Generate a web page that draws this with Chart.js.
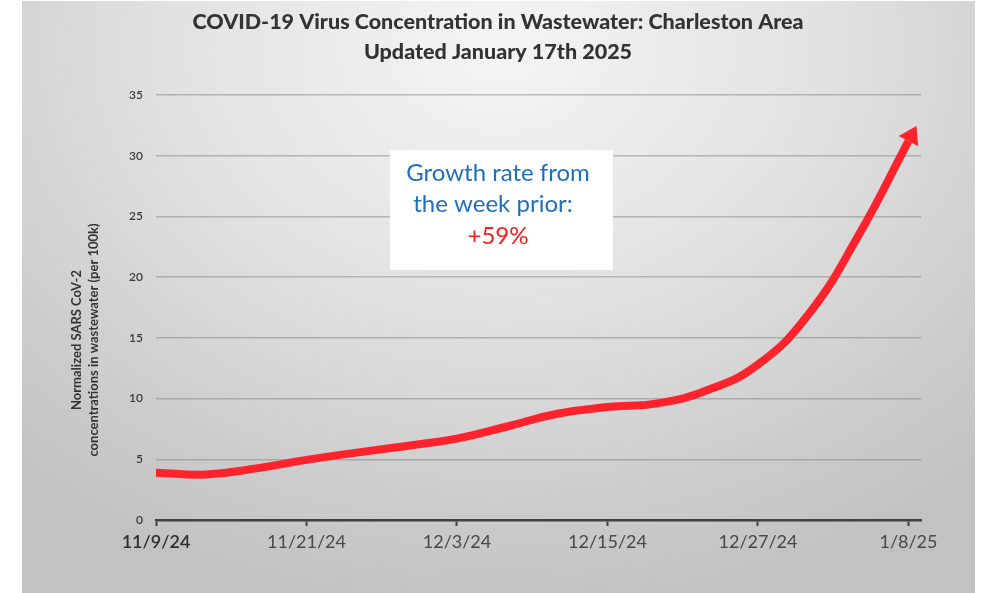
<!DOCTYPE html>
<html>
<head>
<meta charset="utf-8">
<script src="https://cdn.jsdelivr.net/npm/chart.js@4.4.1/dist/chart.umd.min.js"></script>
<style>
  html, body { margin: 0; padding: 0; background: #fff; }
  .wrap { position: relative; width: 1000px; height: 593px; }
  .panel {
    position: absolute; left: 22px; top: 1px; width: 953px; height: 592px;
    background: radial-gradient(ellipse 75% 95% at 50% 8%, #f5f5f5 0%, #e2e2e2 45%, #cdcdcd 80%, #c2c2c2 100%);
  }
  canvas { position: absolute; left: 0; top: 0; }
</style>
</head>
<body>
<div class="wrap">
  <div class="panel"></div>
  <canvas id="chart" width="1000" height="593"></canvas>
</div>
<script>
// --- DATA --- //
const startDate = '2024-11-09'
const dates = [
  '2024-11-09', '2024-11-13', '2024-11-17', '2024-11-21', '2024-11-25',
  '2024-11-29', '2024-12-03', '2024-12-07', '2024-12-11', '2024-12-15',
  '2024-12-19', '2024-12-23', '2024-12-27', '2024-12-31', '2025-01-04',
  '2025-01-08'
]
const values = [3.9, 3.75, 4.25, 4.95, 5.55, 6.1, 6.7, 7.7, 8.75, 9.3, 9.6, 10.7, 12.8, 16.9, 23.4, 31.2]

const tickLabels = ['11/9/24', '11/21/24', '12/3/24', '12/15/24', '12/27/24', '1/8/25']
const tickDates = ['2024-11-09', '2024-11-21', '2024-12-03', '2024-12-15', '2024-12-27', '2025-01-08']
const yTicks = [0, 5, 10, 15, 20, 25, 30, 35]

const titleLines = ['COVID-19 Virus Concentration in Wastewater: Charleston Area', 'Updated January 17th 2025']
const yTitleLines = ['Normalized SARS CoV-2', 'concentrations in wastewater (per 100k)']
const noteLines = ['Growth rate from', 'the week prior:', '+59%']

const dayOf = d => Math.round((new Date(d) - new Date(startDate)) / 86400000)
const points = dates.map((d, i) => ({ x: dayOf(d), y: values[i] }))
const tickDays = tickDates.map(dayOf)

const FONT = "Lato, 'Open Sans', sans-serif"

// --- TEXT + ARROW --- //
const decorations = {
  id: 'decorations',
  afterDraw: chart => {
    const ctx = chart.ctx
    ctx.save()

    // title
    ctx.fillStyle = '#333333'
    ctx.textAlign = 'center'
    ctx.textBaseline = 'middle'
    ctx.font = `900 21.5px ${FONT}`
    ctx.fillText(titleLines[0], 498, 22)
    ctx.fillText(titleLines[1], 498, 52)

    // y axis title
    ctx.save()
    ctx.translate(86, 340)
    ctx.rotate(-Math.PI / 2)
    ctx.font = `bold 13px ${FONT}`
    ctx.fillStyle = '#333333'
    ctx.fillText(yTitleLines[0], 0, -9)
    ctx.fillText(yTitleLines[1], 0, 8)
    ctx.restore()

    // note box
    ctx.fillStyle = '#ffffff'
    ctx.fillRect(390, 150, 223, 120)
    ctx.font = `24px ${FONT}`
    ctx.fillStyle = '#1f6fbf'
    ctx.fillText(noteLines[0], 498, 173)
    ctx.fillText(noteLines[1], 493, 204)
    ctx.fillStyle = '#ff1a1a'
    ctx.fillText(noteLines[2], 498, 236)

    ctx.restore()
  },
  afterDatasetsDraw: chart => {
    const meta = chart.getDatasetMeta(0)
    const last = meta.data[meta.data.length - 1]
    let dx = last.x - last.cp1x
    let dy = last.y - last.cp1y
    const len = Math.hypot(dx, dy) || 1
    dx /= len
    dy /= len
    const ctx = chart.ctx
    const head = 17
    const half = 11
    ctx.save()
    ctx.fillStyle = '#fc232d'
    ctx.beginPath()
    ctx.moveTo(last.x + dx * head, last.y + dy * head)
    ctx.lineTo(last.x - dy * half, last.y + dx * half)
    ctx.lineTo(last.x + dy * half, last.y - dx * half)
    ctx.closePath()
    ctx.fill()
    ctx.restore()
  }
}

// --- CHART --- //
const chartCanvas = document.getElementById('chart')

const configLine = {
  type: 'line',
  data: {
    datasets: [
      {
        label: 'SARS CoV-2',
        data: points,
        borderColor: '#fc232d',
        borderWidth: 8,
        borderCapStyle: 'butt',
        pointRadius: 0,
        tension: 0.45,
        clip: false
      }
    ]
  },
  options: {
    responsive: false,
    animation: false,
    layout: { padding: { top: 95, right: 79, bottom: 0, left: 0 } },
    scales: {
      x: {
        type: 'linear',
        min: 0,
        max: 61,
        afterBuildTicks: scale => {
          scale.ticks = tickDays.map(v => ({ value: v }))
        },
        afterFit: scale => { scale.height = 73 },
        grid: {
          drawOnChartArea: false,
          drawTicks: true,
          tickLength: 6,
          tickWidth: 2,
          tickColor: '#404040'
        },
        border: { color: '#404040', width: 2.5 },
        ticks: {
          padding: 5,
          maxRotation: 0,
          autoSkip: false,
          color: ctx => (ctx.index === 0 ? '#2e2e2e' : '#484848'),
          font: ctx => ({ family: FONT, size: 18, weight: ctx.index === 0 ? '600' : 'normal' }),
          callback: (value, index) => tickLabels[index]
        }
      },
      y: {
        min: 0,
        max: 35,
        afterBuildTicks: scale => {
          scale.ticks = yTicks.map(v => ({ value: v }))
        },
        afterFit: scale => { scale.width = 156 },
        grid: {
          color: ctx => (ctx.tick && ctx.tick.value === 0 ? 'rgba(0,0,0,0)' : 'rgba(120,120,120,0.45)'),
          lineWidth: 1.5,
          drawTicks: false
        },
        border: { display: false },
        ticks: {
          padding: 13,
          color: '#3a3a3a',
          font: { family: FONT, size: 12, weight: '600' }
        }
      }
    },
    plugins: {
      legend: { display: false },
      tooltip: { enabled: false }
    }
  },
  plugins: [decorations]
}

const chartMain = new Chart(chartCanvas, configLine)
</script>
</body>
</html>
